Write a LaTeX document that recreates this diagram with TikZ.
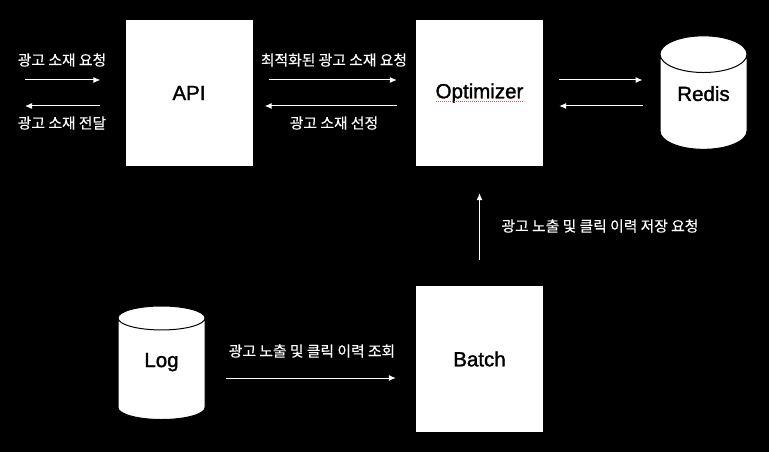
\documentclass[tikz,border=0pt]{standalone}
\usepackage{fontspec}
\newfontfamily\boxfont[FakeBold=1.5]{Liberation Sans}
\newfontfamily\krfont[FakeBold=0.3]{Noto Sans CJK KR}
\usetikzlibrary{arrows.meta,
                shapes.geometric}

\begin{document}
\begin{tikzpicture}[x=1pt, y=-1pt]

\tikzstyle{box1}=[rectangle, fill=white, minimum width=127pt, minimum height=146pt, font=\boxfont\fontsize{20.5}{24}\selectfont, text=black]
\tikzstyle{store}=[cylinder, shape border rotate=90, aspect=0.7, draw=black, line width=1pt, cylinder uses custom fill, cylinder body fill=white, cylinder end fill=white, minimum width=87pt, minimum height=113.5pt, font=\boxfont\fontsize{20.5}{24}\selectfont, text=black, inner sep=0pt]
\tikzstyle{arrow}=[-{Latex[length=7pt,width=6pt]}, white, line width=1pt]
\tikzstyle{caption}=[text=white, font=\krfont\fontsize{14.8}{18}\selectfont, inner sep=0pt]
\tikzstyle{spell}=[densely dotted, line width=1pt, color=red!70!white]

\fill [black] (0,0) rectangle (769,452);

\node (API) [box1] at (189,93) {\raisebox{-1.5pt}{API}};
\node (Optimizer) [box1] at (479.5,93) {\raisebox{-1.5pt}{Optimizer}};
\node (Batch) [box1] at (479.5,359) {\raisebox{-1.5pt}{Batch}};
\node (Redis) [store] at (703.5,102) {\raisebox{17pt}{Redis}};
\node (Log) [store] at (161.5,369) {\raisebox{18pt}{Log}};

\coordinate (ReqStart) at (25,80);
\coordinate (ResEnd) at (25,106);

% labels
\node (ReqText) [caption] at (62,60) {광고 소재 요청};
\node (ResText) [caption] at (62,123) {광고 소재 전달};
\node (OptText) [caption] at (334,60) {최적화된 광고 소재 요청};
\node (PickText) [caption] at (334,123) {광고 소재 선정};
\node (SaveText) [caption] at (600,226) {광고 노출 및 클릭 이력 저장 요청};
\node (ReadText) [caption] at (312,351) {광고 노출 및 클릭 이력 조회};

\draw [arrow, shorten >=25pt] (ReqStart) -- (ReqStart -| API.west);
\draw [arrow, shorten <=25pt] (ResEnd -| API.west) -- (ResEnd);
\draw [arrow, shorten <=16pt, shorten >=19pt] ([yshift=13pt]API.east) -- ([yshift=13pt]Optimizer.west);
\draw [arrow, shorten <=19pt, shorten >=12pt] ([yshift=-13pt]Optimizer.west) -- ([yshift=-13pt]API.east);
\draw [arrow, shorten <=16pt, shorten >=17pt] (Optimizer.east |- 0,80) -- (Redis.west |- 0,80);
\draw [arrow, shorten <=17pt, shorten >=16pt] (Redis.west |- 0,106) -- (Optimizer.east |- 0,106);
\draw [arrow, shorten <=26pt, shorten >=27pt] (Batch.north) -- (Optimizer.south);
\draw [arrow, shorten <=20pt, shorten >=20pt] (Log.east |- 0,378) -- (Batch.west |- 0,378);

\draw [spell] (436,102) -- (524,102);

\end{tikzpicture}
\end{document}
